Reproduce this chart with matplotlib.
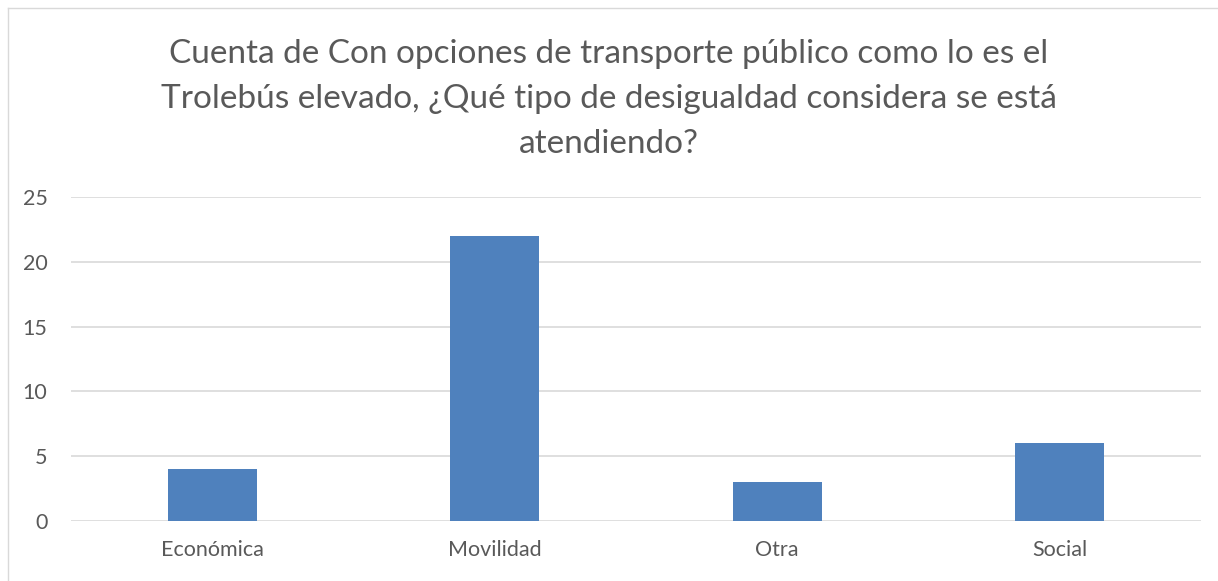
import matplotlib.pyplot as plt
from matplotlib.lines import Line2D

# data
categories = ["Económica", "Movilidad", "Otra", "Social"]
counts = [4, 22, 3, 6]
yticks = [0, 5, 10, 15, 20, 25]
title = ("Cuenta de Con opciones de transporte público como lo es el\n"
         "Trolebús elevado, ¿Qué tipo de desigualdad considera se está\n"
         "atendiendo?")

plt.rcParams['font.family'] = ['Lato', 'DejaVu Sans']
txt = '#595959'

fig = plt.figure(figsize=(12.18, 5.81), dpi=100)
ax = fig.add_axes([71/1218, 1 - 521/581, 1130/1218, 324/581])

x = range(len(categories))
ax.bar(x, counts, width=0.315, color='#4F81BD', zorder=3)
ax.set_xlim(-0.5, len(categories) - 0.5)
ax.set_ylim(0, 25)
ax.set_yticks(yticks)
ax.set_xticks(list(x))
ax.set_xticklabels(categories)
ax.grid(axis='y', color='#D9D9D9', linewidth=1.2, zorder=0)
for s in ax.spines.values():
    s.set_visible(False)
ax.tick_params(length=0, labelsize=15.5, colors=txt)
ax.tick_params(axis='x', pad=14)
ax.tick_params(axis='y', pad=17)

fig.text(0.5, 1 - 99/581, title, ha='center', va='center', fontsize=24,
         color=txt, linespacing=1.62)

# chart frame (cropped at right/bottom)
fig.add_artist(Line2D([7.5/1218, 7.5/1218], [0, 1 - 7.5/581], color='#D9D9D9', lw=1))
fig.add_artist(Line2D([7.5/1218, 1], [1 - 7.5/581, 1 - 7.5/581], color='#D9D9D9', lw=1))

fig.savefig('out.png', dpi=100)
